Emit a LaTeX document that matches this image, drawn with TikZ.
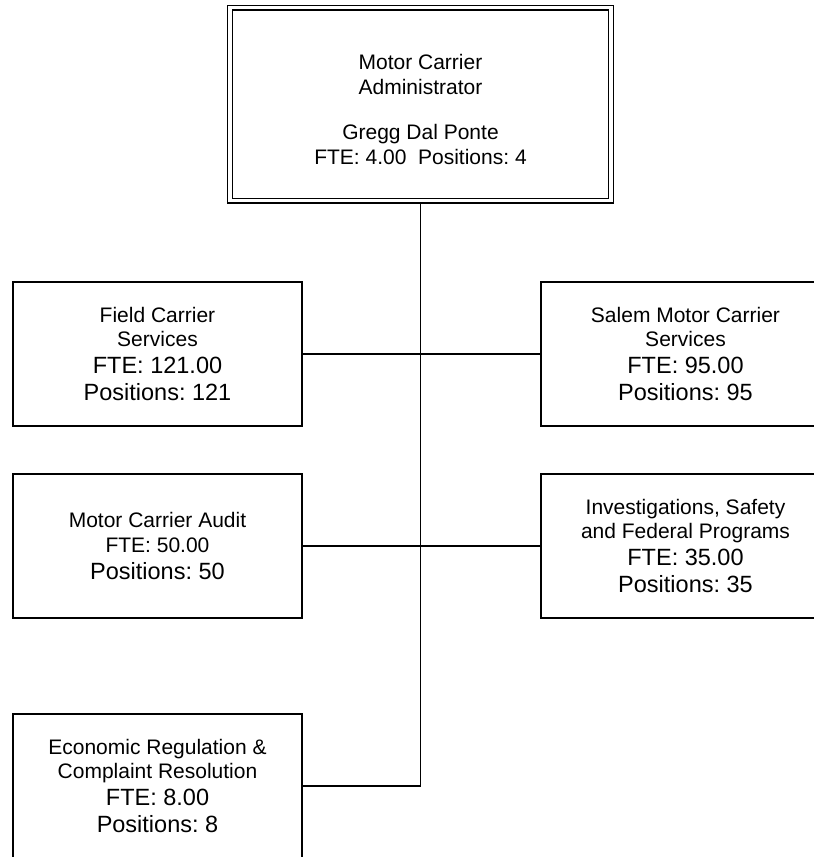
\documentclass[tikz,border=0pt]{standalone}
\usepackage{fontspec}
\setmainfont{Liberation Sans}
\usepackage{tikz}
\frenchspacing

\newcommand{\fixspace}{\spaceskip=\fontdimen2\font\xspaceskip=\fontdimen2\font\relax}
\newcommand{\boxhead}[1]{{\fontsize{21}{24.5}\selectfont\fixspace #1\par}}
\newcommand{\boxfig}[1]{{\fontsize{23.5}{27}\selectfont\fixspace #1\par}}

\begin{document}
\begin{tikzpicture}[x=1pt,y=-1pt,
  office/.style={rectangle,draw,line width=1.3pt,minimum width=289pt,
    minimum height=144pt,text width=280pt,align=center,inner sep=0pt},
  chief/.style={rectangle,draw,line width=1.2pt,double,double distance=3.6pt,
    minimum width=381pt,minimum height=193pt,text width=370pt,align=center,
    inner sep=0pt,font=\fontsize{21}{25}\selectfont}]
\clip (0,0) rectangle (814,857);

% head of the division
\node [chief] (admin) at (420.5,104) {\fixspace\rule{0pt}{27pt}Motor Carrier\\Administrator\\[20pt]
  Gregg Dal Ponte\\FTE: 4.00\ \ Positions: 4};

% sections
\node [office] (fcs) at (157.5,354) {\boxhead{Field Carrier\\Services}\boxfig{FTE: 121.00\\Positions: 121}};
\node [office] (smcs) at (685.5,354) {\boxhead{Salem Motor Carrier\\Services}\boxfig{FTE: 95.00\\Positions: 95}};
\node [office] (mca) at (157.5,546) {\boxhead{Motor Carrier Audit\\FTE: 50.00}\boxfig{Positions: 50}};
\node [office] (isfp) at (685.5,546) {\boxhead{Investigations, Safety\\and Federal Programs}\boxfig{FTE: 35.00\\Positions: 35}};
\node [office] (erc) at (157.5,786) {\boxhead{Economic Regulation \&\\Complaint Resolution}\boxfig{FTE: 8.00\\Positions: 8}};

% lines
\draw [line width=1.3pt] ([yshift=-2.5pt]admin.south) |- (erc.east);
\draw [line width=1.3pt] (fcs.east) -- (smcs.west);
\draw [line width=1.3pt] (mca.east) -- (isfp.west);
\end{tikzpicture}
\end{document}
